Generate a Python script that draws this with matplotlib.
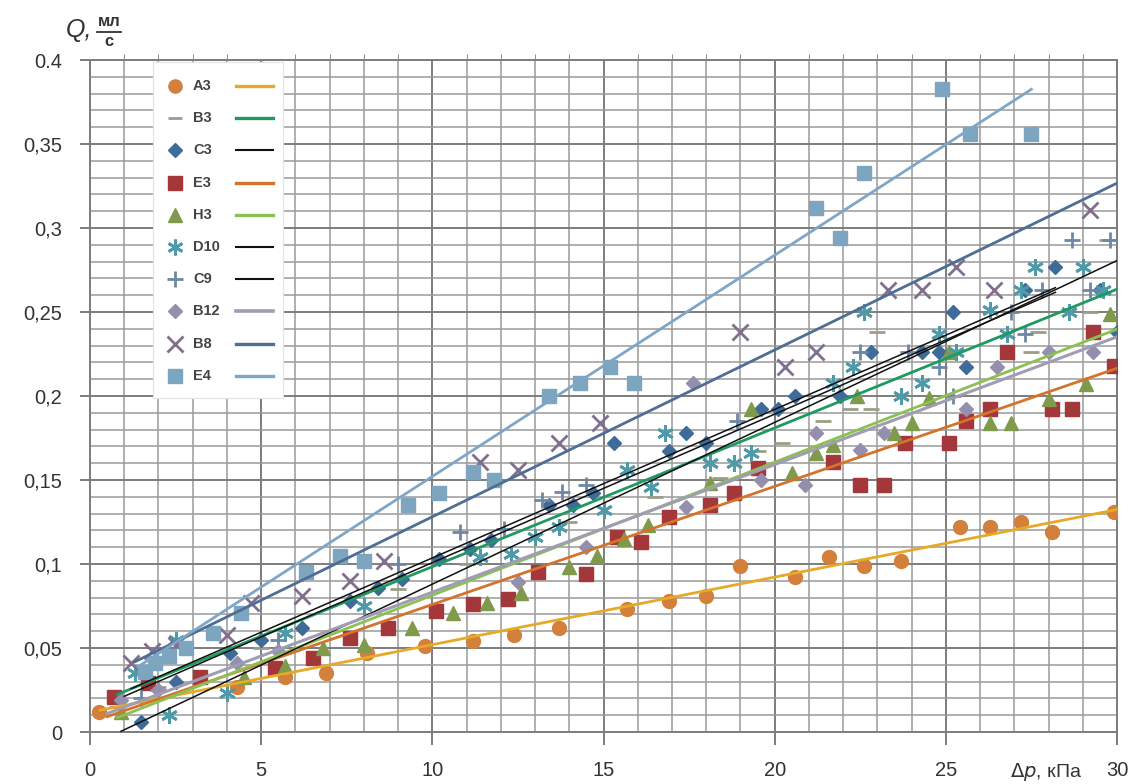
import numpy as np
import matplotlib.pyplot as plt
from matplotlib.ticker import MultipleLocator
from matplotlib.patches import Rectangle

plt.rcParams['font.family'] = ['Liberation Sans', 'DejaVu Sans']

# ---- measured points ----
a3_x = [0.25, 4.3, 5.7, 6.9, 8.1, 9.8, 11.2, 12.4, 13.7, 15.7, 16.9, 18.0, 19.0, 20.6, 21.6, 22.6, 23.7, 25.4, 26.3, 27.2, 28.1, 29.9]
a3_y = [0.012, 0.027, 0.033, 0.035, 0.047, 0.051, 0.054, 0.058, 0.062, 0.073, 0.078, 0.081, 0.099, 0.092, 0.104, 0.099, 0.102, 0.122, 0.122, 0.125, 0.119, 0.131]

b3_x = [0.8, 2.0, 5.0, 9.0, 11.0, 14.0, 16.5, 18.4, 19.5, 20.2, 21.4, 22.2, 22.8, 23.0, 27.5, 27.7, 29.2, 29.7]
b3_y = [0.015, 0.027, 0.050, 0.085, 0.100, 0.125, 0.140, 0.151, 0.167, 0.172, 0.185, 0.192, 0.192, 0.238, 0.226, 0.238, 0.250, 0.293]

c3_x = [1.5, 2.5, 4.1, 5.0, 6.2, 7.6, 8.4, 9.1, 10.2, 11.1, 11.7, 13.4, 14.1, 14.7, 15.3, 16.9, 17.4, 18.0, 19.6, 20.1, 20.6, 21.9, 22.8, 24.3, 24.8, 25.2, 25.6, 27.3, 28.2, 29.5, 30.0]
c3_y = [0.006, 0.030, 0.047, 0.055, 0.062, 0.078, 0.086, 0.091, 0.103, 0.109, 0.114, 0.135, 0.135, 0.142, 0.172, 0.167, 0.178, 0.172, 0.192, 0.192, 0.200, 0.200, 0.226, 0.226, 0.226, 0.250, 0.217, 0.263, 0.277, 0.263, 0.238]

e3_x = [0.7, 1.7, 3.2, 5.4, 6.5, 7.6, 8.7, 10.1, 11.2, 12.2, 13.1, 14.5, 15.4, 16.1, 16.9, 18.1, 18.8, 19.5, 21.7, 22.5, 23.2, 23.8, 25.1, 25.6, 26.3, 26.8, 28.1, 28.7, 29.3, 29.9]
e3_y = [0.021, 0.029, 0.033, 0.038, 0.044, 0.056, 0.062, 0.072, 0.076, 0.079, 0.095, 0.094, 0.116, 0.113, 0.128, 0.135, 0.142, 0.157, 0.161, 0.147, 0.147, 0.172, 0.172, 0.185, 0.192, 0.226, 0.192, 0.192, 0.238, 0.218]

h3_x = [0.9, 4.5, 5.7, 6.8, 8.0, 9.4, 10.6, 11.6, 12.6, 14.0, 14.8, 15.6, 16.3, 18.1, 19.3, 20.5, 21.2, 21.7, 22.4, 23.5, 24.0, 24.5, 25.1, 26.3, 26.9, 28.0, 29.1, 29.8]
h3_y = [0.012, 0.033, 0.039, 0.050, 0.052, 0.062, 0.071, 0.077, 0.083, 0.098, 0.105, 0.115, 0.123, 0.148, 0.192, 0.154, 0.166, 0.171, 0.200, 0.178, 0.184, 0.199, 0.226, 0.184, 0.184, 0.198, 0.207, 0.249]

d10_x = [1.3, 2.3, 2.5, 4.0, 5.7, 8.0, 11.4, 12.3, 13.0, 13.7, 15.0, 15.7, 16.4, 16.8, 18.1, 18.8, 19.3, 21.7, 22.3, 22.6, 23.7, 24.3, 24.8, 25.3, 26.3, 26.8, 27.2, 27.6, 28.6, 29.0, 29.6]
d10_y = [0.035, 0.010, 0.055, 0.023, 0.059, 0.075, 0.104, 0.106, 0.116, 0.122, 0.132, 0.156, 0.146, 0.178, 0.160, 0.160, 0.166, 0.208, 0.217, 0.250, 0.200, 0.208, 0.237, 0.226, 0.251, 0.237, 0.263, 0.277, 0.250, 0.277, 0.263]

c9_x = [1.5, 2.0, 5.5, 9.0, 10.8, 12.1, 13.2, 13.8, 14.5, 18.9, 22.5, 23.9, 24.8, 25.2, 26.9, 27.3, 27.8, 28.7, 29.2, 29.8]
c9_y = [0.020, 0.025, 0.055, 0.100, 0.119, 0.121, 0.138, 0.143, 0.147, 0.185, 0.226, 0.226, 0.217, 0.200, 0.250, 0.237, 0.263, 0.293, 0.263, 0.293]

b12_x = [0.9, 2.0, 4.3, 5.5, 12.5, 14.5, 17.4, 17.6, 19.6, 20.9, 21.2, 22.5, 23.2, 25.6, 26.5, 28.0, 29.3]
b12_y = [0.019, 0.025, 0.041, 0.048, 0.089, 0.110, 0.134, 0.208, 0.150, 0.147, 0.178, 0.168, 0.178, 0.192, 0.217, 0.226, 0.226]

b8_x = [1.2, 1.8, 2.5, 4.0, 4.7, 6.2, 7.6, 8.6, 11.4, 12.5, 13.7, 14.9, 19.0, 20.3, 21.2, 23.3, 24.3, 25.3, 26.4, 29.2]
b8_y = [0.041, 0.048, 0.052, 0.058, 0.077, 0.081, 0.090, 0.102, 0.161, 0.156, 0.172, 0.184, 0.238, 0.217, 0.226, 0.263, 0.263, 0.277, 0.263, 0.311]

e4_x = [1.6, 1.9, 2.3, 2.8, 3.6, 4.4, 6.3, 7.3, 8.0, 9.3, 10.2, 11.2, 11.8, 13.4, 14.3, 15.2, 15.9, 21.2, 21.9, 22.6, 24.9, 25.7, 27.5]
e4_y = [0.036, 0.041, 0.045, 0.050, 0.059, 0.071, 0.095, 0.105, 0.102, 0.135, 0.142, 0.155, 0.150, 0.200, 0.208, 0.217, 0.208, 0.312, 0.294, 0.333, 0.383, 0.356, 0.356]

names = ['A3', 'B3', 'C3', 'E3', 'H3', 'D10', 'C9', 'B12', 'B8', 'E4']
xs = [a3_x, b3_x, c3_x, e3_x, h3_x, d10_x, c9_x, b12_x, b8_x, e4_x]
ys = [a3_y, b3_y, c3_y, e3_y, h3_y, d10_y, c9_y, b12_y, b8_y, e4_y]

# trend lines: intercept, slope, x from, x to
tr_icpt = [0.0118, 0.0158, 0.0152, 0.0056, 0.0022, 0.0124, -0.0083, 0.0072, 0.0288, 0.0204]
tr_slope = [0.00402, 0.00826, 0.00884, 0.00703, 0.00792, 0.00884, 0.00963, 0.0076, 0.00993, 0.01317]
tr_x0 = [0.3, 0.8, 1.2, 0.5, 0.8, 1.0, 0.9, 0.5, 1.3, 1.4]
tr_x1 = [30.0, 30.0, 28.2, 30.0, 30.0, 28.2, 30.0, 30.0, 30.0, 27.5]

mk = ['o', '_', 'D', 's', '^', (6, 2, 0), '+', 'D', 'x', 's']
mk_size = [10, 11, 7.5, 10.5, 10, 12, 12, 7.5, 12, 10.5]
mk_color = ['#D2803C', '#9C9E86', '#3F6B98', '#A3373A', '#7F9A4B', '#4E9AA8',
            '#6E87A4', '#958FAE', '#816F8E', '#7EA5C0']
ln_color = ['#E6A928', '#1F9962', '#111111', '#D4732C', '#8CC152', '#111111',
            '#111111', '#A09DB2', '#4E6E95', '#7FA6C8']
ln_w = [2.0, 2.0, 1.1, 2.0, 2.0, 1.1, 1.1, 2.2, 2.0, 2.0]

fig = plt.figure(figsize=(11.33, 7.84), dpi=100)
ax = fig.add_axes([90 / 1133, 52 / 784, 1027 / 1133, 672 / 784])

for i in range(len(names)):
    mew = 2.0 if mk[i] in ['_', '+', 'x'] or isinstance(mk[i], tuple) else 1.0
    ax.plot(xs[i], ys[i], ls='none', marker=mk[i], ms=mk_size[i], color=mk_color[i],
            mew=mew, zorder=3)
for i in range(len(names)):
    xx = np.array([tr_x0[i], tr_x1[i]])
    ax.plot(xx, tr_icpt[i] + tr_slope[i] * xx, color=ln_color[i], lw=ln_w[i], zorder=4)

ax.set_xlim(0, 30)
ax.set_ylim(0, 0.4)
ax.xaxis.set_major_locator(MultipleLocator(5))
ax.xaxis.set_minor_locator(MultipleLocator(1))
ax.yaxis.set_major_locator(MultipleLocator(0.05))
ax.yaxis.set_minor_locator(MultipleLocator(0.01))
ax.grid(which='major', color='#7d7d7d', lw=1.4, zorder=0)
ax.grid(which='minor', color='#9a9a9a', lw=1.1, zorder=0)
ax.set_axisbelow(True)
for s in ax.spines.values():
    s.set_color('#7d7d7d')
    s.set_linewidth(1.4)

ax.set_yticks(np.arange(0, 0.401, 0.05))
ax.set_yticklabels(['0', '0,05', '0,1', '0,15', '0,2', '0,25', '0,3', '0,35', '0.4'])
ax.tick_params(axis='x', which='major', length=9, width=1.4, color='#7d7d7d', pad=12,
               labelsize=14.5, labelcolor='#333333')
ax.tick_params(axis='y', which='major', length=7, width=1.4, color='#7d7d7d', pad=13,
               labelsize=14.5, labelcolor='#333333')
ax.tick_params(which='minor', bottom=False, left=False, top=True, direction='out',
               length=4, color='#7d7d7d')

# axis captions
fig.text(1010 / 1133, 1 - 772 / 784, r'$\Delta\mathit{p}$, кПа', fontsize=14,
         color='#333333', ha='left', va='center')
fig.text(66 / 1133, 1 - 30 / 784, 'Q,', fontsize=18, style='italic',
         color='#333333', ha='left', va='center')
fig.text(109 / 1133, 1 - 21 / 784, 'мл', fontsize=12, weight='bold',
         color='#333333', ha='center', va='center')
fig.text(109 / 1133, 1 - 42 / 784, 'с', fontsize=12, weight='bold',
         color='#333333', ha='center', va='center')
fig.add_artist(plt.Line2D([97 / 1133, 121 / 1133], [1 - 32 / 784, 1 - 32 / 784],
                          color='#333333', lw=1.3))


# legend drawn by hand (marker, name, line sample)
def px(x, y):
    return (x - 90) / 1027, (732 - y) / 672


lx0, ly0 = px(153, 398)
lx1, ly1 = px(283, 62)
ax.add_patch(Rectangle((lx0, ly0), lx1 - lx0, ly1 - ly0, transform=ax.transAxes,
                       facecolor='white', edgecolor='#e4e4e4', lw=0.8, zorder=6))
for i in range(len(names)):
    ry = 86 + i * 32.2
    mx, my = px(175, ry)
    mew = 2.0 if mk[i] in ['_', '+', 'x'] or isinstance(mk[i], tuple) else 1.0
    ax.plot([mx], [my], transform=ax.transAxes, ls='none', marker=mk[i],
            ms=mk_size[i] * 0.95, color=mk_color[i], mew=mew, zorder=7, clip_on=False)
    tx, ty = px(193, ry)
    ax.text(tx, ty, names[i], transform=ax.transAxes, fontsize=10.5, weight='bold',
            color='#444444', ha='left', va='center', zorder=7)
    a, _ = px(236, ry)
    b, _ = px(273, ry)
    ax.plot([a, b], [my, my], transform=ax.transAxes, color=ln_color[i],
            lw=ln_w[i] + 0.4, zorder=7, clip_on=False)

fig.savefig('out.png', dpi=100)
